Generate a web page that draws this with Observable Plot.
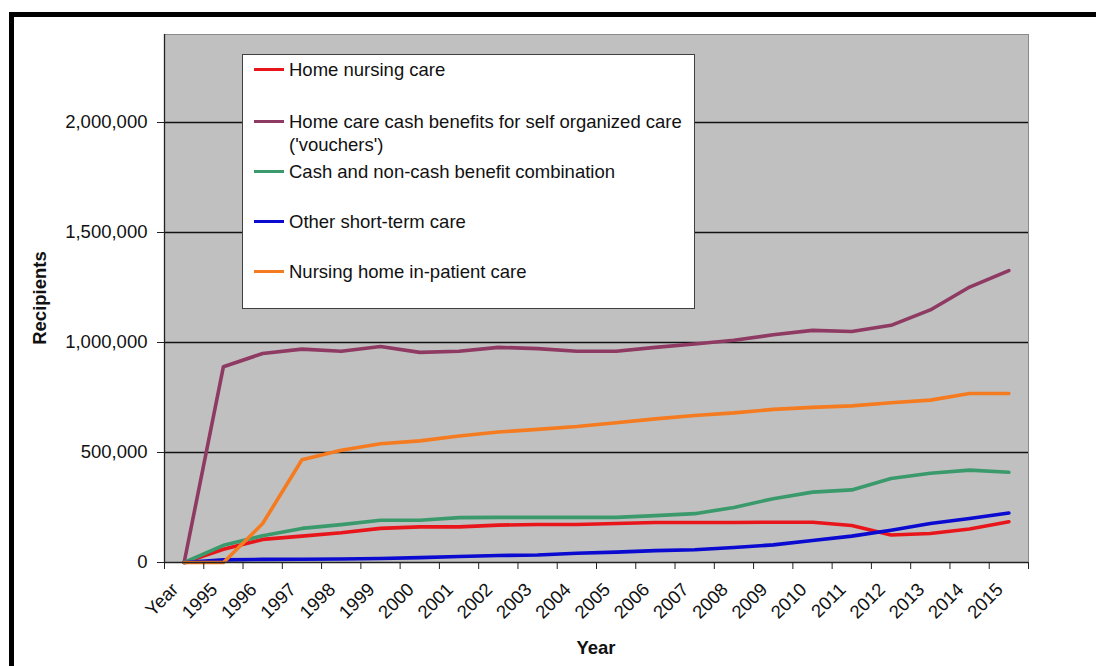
<!DOCTYPE html>
<html><head><meta charset="utf-8">
<script src="https://cdn.jsdelivr.net/npm/d3@7"></script>
<script src="https://cdn.jsdelivr.net/npm/@observablehq/plot@0.6"></script>
<style>
body{margin:0;background:#fff;font-family:"Liberation Sans",Arial,sans-serif;}
#wrap{position:relative;width:1096px;height:666px;overflow:hidden;}
#chart{position:absolute;left:0;top:0;}
#frame{position:absolute;left:9px;top:12px;width:1200px;height:800px;border-left:5px solid #000;border-top:5px solid #000;}
#legend{position:absolute;left:242px;top:54px;width:451px;height:253px;background:#fff;border:1px solid #404040;}
.item{position:absolute;left:0;font-size:18.5px;color:#111;line-height:23px;}
.sw{position:absolute;left:11px;top:10px;width:30px;height:3px;}
.lbl{position:absolute;left:46px;top:0;white-space:nowrap;}
.ytitle{position:absolute;left:40px;top:298px;transform:translate(-50%,-50%) rotate(-90deg);font-weight:bold;font-size:18.5px;color:#111;white-space:nowrap;}
.xtitle{position:absolute;left:596px;top:648px;transform:translate(-50%,-50%);font-weight:bold;font-size:18.5px;color:#111;}
</style>
</head><body>
<div id="wrap">
  <div id="frame"></div>
  <div id="chart"></div>
  <div id="legend"></div>
  <div class="ytitle">Recipients</div>
  <div class="xtitle">Year</div>
</div>
<script>
const categories = ["Year","1995","1996","1997","1998","1999","2000","2001","2002","2003","2004","2005","2006","2007","2008","2009","2010","2011","2012","2013","2014","2015"];
const homeNursing = [0, 60000, 105000, 120000, 135000, 155000, 162000, 162000, 170000, 173000, 173000, 177000, 182000, 182000, 182000, 183000, 183000, 168000, 125000, 132000, 152000, 185000];
const cashBenefits = [0, 890000, 950000, 970000, 960000, 982000, 955000, 960000, 978000, 972000, 960000, 960000, 978000, 993000, 1010000, 1035000, 1055000, 1050000, 1078000, 1148000, 1252000, 1327000];
const combination = [0, 78000, 122000, 155000, 172000, 192000, 192000, 204000, 205000, 205000, 205000, 205000, 213000, 222000, 250000, 290000, 320000, 330000, 382000, 406000, 420000, 410000];
const shortTerm = [0, 12000, 14000, 15000, 16000, 18000, 22000, 27000, 32000, 34000, 42000, 47000, 54000, 58000, 68000, 80000, 100000, 120000, 147000, 177000, 200000, 225000];
const inPatient = [0, 0, 177000, 467000, 510000, 540000, 553000, 575000, 593000, 605000, 618000, 635000, 653000, 668000, 680000, 696000, 705000, 712000, 726000, 738000, 768000, 768000];
const seriesNames = ["Home nursing care", "Home care cash benefits for self organized care\n('vouchers')", "Cash and non-cash benefit combination", "Other short-term care", "Nursing home in-patient care"];
const seriesColors = ["#e8161b", "#8e3a63", "#3a9a6c", "#0a0ad0", "#f47b20"];
const yTicks = [0, 500000, 1000000, 1500000, 2000000];

const seriesValues = [homeNursing, cashBenefits, combination, shortTerm, inPatient];
const data = [];
seriesValues.forEach((vals, s) => vals.forEach((v, i) => data.push({i: i + 0.5, series: seriesNames[s], value: v})));
const centers = categories.map((c, i) => i + 0.5);
const bounds = d3.range(categories.length + 1);

const chart = Plot.plot({
  width: 1096, height: 666,
  marginLeft: 164, marginTop: 34, marginRight: 68, marginBottom: 104,
  style: {fontFamily: '"Liberation Sans", Arial, sans-serif', fontSize: "18.5px", color: "#111", background: "transparent"},
  x: {domain: [0, categories.length], axis: null},
  y: {domain: [0, 2400000], axis: null},
  color: {domain: seriesNames, range: seriesColors},
  marks: [
    Plot.frame({fill: "#c0c0c0", stroke: "#8a8a8a"}),
    Plot.gridY(yTicks.slice(1), {stroke: "#111", strokeOpacity: 1, strokeWidth: 1.3}),
    Plot.line(data, {x: "i", y: "value", z: "series", stroke: "series", strokeWidth: 3.6}),
    Plot.ruleX([0], {stroke: "#222", strokeWidth: 1.3}),
    Plot.ruleY([0], {stroke: "#222", strokeWidth: 1.3}),
    Plot.axisY(yTicks, {tickFormat: d3.format(","), tickSize: 7, tickPadding: 10, fontSize: 18.5, label: null, stroke: "#222"}),
    Plot.axisX(bounds, {tickFormat: () => "", tickSize: 7, label: null, stroke: "#222"}),
    Plot.axisX(centers, {tickSize: 0, tickRotate: -45, tickPadding: 24, dx: -9, fontSize: 18.5, tickFormat: d => categories[Math.round(d - 0.5)], label: null})
  ]
});
document.getElementById("chart").appendChild(chart);

// legend
const legend = document.getElementById("legend");
const tops = [3, 55, 105, 155, 205];
seriesNames.forEach((name, k) => {
  const item = document.createElement("div");
  item.className = "item";
  item.style.top = tops[k] + "px";
  const sw = document.createElement("div");
  sw.className = "sw";
  sw.style.background = seriesColors[k];
  const lbl = document.createElement("div");
  lbl.className = "lbl";
  lbl.innerHTML = name.split("\n").join("<br>");
  item.appendChild(sw); item.appendChild(lbl);
  legend.appendChild(item);
});
</script>
</body></html>
